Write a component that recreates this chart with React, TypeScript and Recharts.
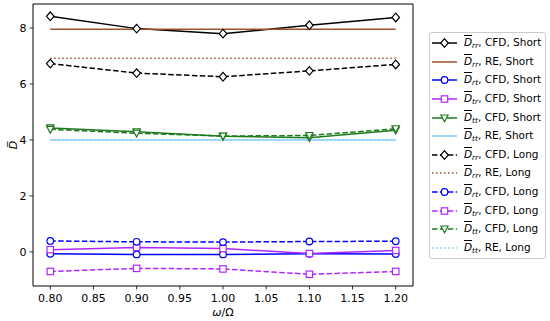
import React from 'react';
import { LineChart, Line, XAxis, YAxis, ReferenceArea } from 'recharts';

const omegaRatios = [0.8, 0.9, 1.0, 1.1, 1.2];
const xTicks = [0.8, 0.85, 0.9, 0.95, 1.0, 1.05, 1.1, 1.15, 1.2];
const yTicks = [0, 2, 4, 6, 8];

const dRrCfdShort = [8.42, 7.98, 7.8, 8.1, 8.38];
const dRrReShort = [7.96, 7.96, 7.96, 7.96, 7.96];
const dRtCfdShort = [-0.07, -0.09, -0.09, -0.07, -0.08];
const dTrCfdShort = [0.08, 0.16, 0.12, -0.06, 0.05];
const dTtCfdShort = [4.43, 4.29, 4.13, 4.08, 4.35];
const dTtReShort = [4.0, 4.0, 4.0, 4.0, 4.0];
const dRrCfdLong = [6.73, 6.39, 6.26, 6.47, 6.7];
const dRrReLong = [6.92, 6.92, 6.92, 6.92, 6.92];
const dRtCfdLong = [0.39, 0.36, 0.35, 0.37, 0.38];
const dTrCfdLong = [-0.7, -0.59, -0.61, -0.8, -0.7];
const dTtCfdLong = [4.38, 4.24, 4.14, 4.16, 4.4];
const dTtReLong = [4.02, 4.02, 4.02, 4.02, 4.02];

type Marker = 'diamond' | 'circle' | 'square' | 'tri' | 'none';
interface S { key: string; sub: string; method: string; len: string; color: string; dash?: string; marker: Marker; values: number[] }

const DASH = '5.5 2.4';
const DOT = '1.5 2.5';

const series: S[] = [
  { key: 's0', sub: 'rr', method: 'CFD', len: 'Short', color: '#000000', marker: 'diamond', values: dRrCfdShort },
  { key: 's1', sub: 'rr', method: 'RE', len: 'Short', color: '#a0522d', marker: 'none', values: dRrReShort },
  { key: 's2', sub: 'rt', method: 'CFD', len: 'Short', color: '#0000ff', marker: 'circle', values: dRtCfdShort },
  { key: 's3', sub: 'tr', method: 'CFD', len: 'Short', color: '#b026ff', marker: 'square', values: dTrCfdShort },
  { key: 's4', sub: 'tt', method: 'CFD', len: 'Short', color: '#1f7a1f', marker: 'tri', values: dTtCfdShort },
  { key: 's5', sub: 'tt', method: 'RE', len: 'Short', color: '#87cefa', marker: 'none', values: dTtReShort },
  { key: 's6', sub: 'rr', method: 'CFD', len: 'Long', color: '#000000', dash: DASH, marker: 'diamond', values: dRrCfdLong },
  { key: 's7', sub: 'rr', method: 'RE', len: 'Long', color: '#a0522d', dash: DOT, marker: 'none', values: dRrReLong },
  { key: 's8', sub: 'rt', method: 'CFD', len: 'Long', color: '#0000ff', dash: DASH, marker: 'circle', values: dRtCfdLong },
  { key: 's9', sub: 'tr', method: 'CFD', len: 'Long', color: '#b026ff', dash: DASH, marker: 'square', values: dTrCfdLong },
  { key: 's10', sub: 'tt', method: 'CFD', len: 'Long', color: '#1f7a1f', dash: DASH, marker: 'tri', values: dTtCfdLong },
  { key: 's11', sub: 'tt', method: 'RE', len: 'Long', color: '#87cefa', dash: DOT, marker: 'none', values: dTtReLong },
];

const data = omegaRatios.map((x, i) => {
  const row: Record<string, number> = { x };
  series.forEach((s) => { row[s.key] = s.values[i]; });
  return row;
});

function markerShape(shape: Marker, color: string, cx: number, cy: number, k: string) {
  const sw = 1.2;
  if (shape === 'diamond') {
    const h = 4.3, w = 3.8;
    return <polygon key={k} points={`${cx},${cy - h} ${cx + w},${cy} ${cx},${cy + h} ${cx - w},${cy}`} fill="#fff" stroke={color} strokeWidth={sw} />;
  }
  if (shape === 'circle') return <circle key={k} cx={cx} cy={cy} r={3.3} fill="#fff" stroke={color} strokeWidth={sw} />;
  if (shape === 'square') return <rect key={k} x={cx - 3.2} y={cy - 3.2} width={6.4} height={6.4} fill="#fff" stroke={color} strokeWidth={sw} />;
  if (shape === 'tri') return <polygon key={k} points={`${cx - 3.6},${cy - 3} ${cx + 3.6},${cy - 3} ${cx},${cy + 3.8}`} fill="#fff" stroke={color} strokeWidth={sw} />;
  return <g key={k} />;
}

const makeDot = (s: S) => (p: any) => {
  const k = `${s.key}-${p.index}`;
  if (p.cx == null || p.cy == null) return <g key={k} />;
  return markerShape(s.marker, s.color, p.cx, p.cy, k);
};

const font = 'DejaVu Sans, sans-serif';

const YLabel = (props: any) => {
  const vb = props.viewBox || {};
  const cy = vb.y + vb.height / 2;
  return (
    <text x={13} y={cy} transform={`rotate(-90 13 ${cy})`} textAnchor="middle" fontFamily={font} fontSize={11} fontStyle="italic" fill="#000" dy="0.35em">
      {'D\u0305'}
    </text>
  );
};

const XLabel = (props: any) => {
  const vb = props.viewBox || {};
  const cx = vb.x + vb.width / 2;
  return (
    <text x={cx} y={vb.y + 30} textAnchor="middle" fontFamily={font} fontSize={11} fill="#000">
      <tspan fontStyle="italic">ω</tspan>/Ω
    </text>
  );
};

const LegendBox = () => (
  <div style={{ position: 'absolute', left: 429, top: 32, width: 117, boxSizing: 'border-box', border: '1px solid #cccccc', borderRadius: 3, background: '#fff', padding: '1px 2px', fontFamily: font, fontSize: 10.5, color: '#000' }}>
    {series.map((s) => (
      <div key={s.key} style={{ display: 'flex', alignItems: 'center', height: 18.6, whiteSpace: 'nowrap' }}>
        <svg width={25} height={12} style={{ flex: 'none' }}>
          <line x1={0} y1={6} x2={25} y2={6} stroke={s.color} strokeWidth={1.5} strokeDasharray={s.dash} />
          {markerShape(s.marker, s.color, 12.5, 6, 'm')}
        </svg>
        <span style={{ marginLeft: 7, lineHeight: '12px' }}>
          <span style={{ fontStyle: 'italic', textDecoration: 'overline' }}>D</span>
          <span style={{ fontStyle: 'italic', fontSize: 7.5, position: 'relative', top: 2 }}>{s.sub}</span>
          {`, ${s.method}, ${s.len}`}
        </span>
      </div>
    ))}
  </div>
);

export default function App() {
  return (
    <div style={{ position: 'absolute', left: 0, top: 0, width: 550, height: 321, background: '#fff' }}>
      <LineChart width={550} height={321} data={data} margin={{ top: 4, right: 137, bottom: 0, left: 0 }}>
        <XAxis
          dataKey="x"
          type="number"
          domain={[0.78, 1.22]}
          ticks={xTicks}
          allowDataOverflow
          tickFormatter={(v: number) => v.toFixed(2)}
          height={35}
          tickSize={3.5}
          tickMargin={5}
          axisLine={false}
          tickLine={{ stroke: '#000', strokeWidth: 0.8 }}
          tick={{ fill: '#000', fontSize: 11, fontFamily: font }}
          label={<XLabel />}
        />
        <YAxis
          type="number"
          domain={[-1.22, 8.86]}
          ticks={yTicks}
          allowDataOverflow
          width={33}
          tickSize={3.5}
          tickMargin={3}
          axisLine={false}
          tickLine={{ stroke: '#000', strokeWidth: 0.8 }}
          tick={{ fill: '#000', fontSize: 11, fontFamily: font }}
          label={<YLabel />}
        />
        {series.map((s) => (
          <Line
            key={s.key}
            dataKey={s.key}
            type="linear"
            stroke={s.color}
            strokeWidth={1.5}
            strokeDasharray={s.dash}
            dot={s.marker === 'none' ? false : makeDot(s)}
            activeDot={false}
            isAnimationActive={false}
          />
        ))}
        <ReferenceArea x1={0.78} x2={1.22} y1={-1.22} y2={8.86} fill="none" stroke="#000" strokeWidth={1} ifOverflow="visible" />
      </LineChart>
      <LegendBox />
    </div>
  );
}
